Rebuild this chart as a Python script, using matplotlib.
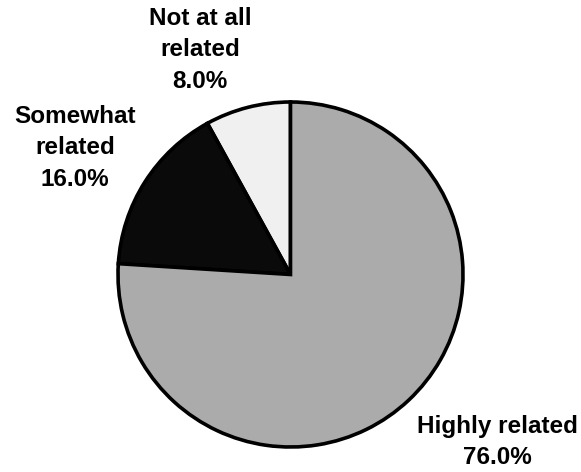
import matplotlib
matplotlib.use("Agg")
import matplotlib.pyplot as plt

categories = ["Not at all\nrelated", "Somewhat\nrelated", "Highly related"]
values = [8.0, 16.0, 76.0]
colors = ["#f0f0f0", "#0a0a0a", "#ababab"]

W, H = 581, 472
fig = plt.figure(figsize=(W / 100, H / 100), dpi=100)
fig.patch.set_facecolor("white")

cx, cy, r = 290.5, 274.5, 172.5
ax = fig.add_axes([(cx - r) / W, (H - cy - r) / H, 2 * r / W, 2 * r / H])
ax.pie(values, colors=colors, startangle=90, counterclock=True,
       wedgeprops=dict(edgecolor="black", linewidth=2.6), frame=False)
ax.set_xlim(-1, 1)
ax.set_ylim(-1, 1)
ax.set_aspect("equal")
ax.axis("off")

# label positions in pixels (text block centres)
label_pos = [(200, 50), (75, 148), (497, 442)]
for cat, val, (px, py) in zip(categories, values, label_pos):
    fig.text(px / W, 1 - py / H, f"{cat}\n{val:.1f}%", ha="center", va="center",
             multialignment="center", fontsize=17.5, fontweight="bold",
             family="Liberation Sans", linespacing=1.45)

fig.savefig("out.png", dpi=100, facecolor="white")
